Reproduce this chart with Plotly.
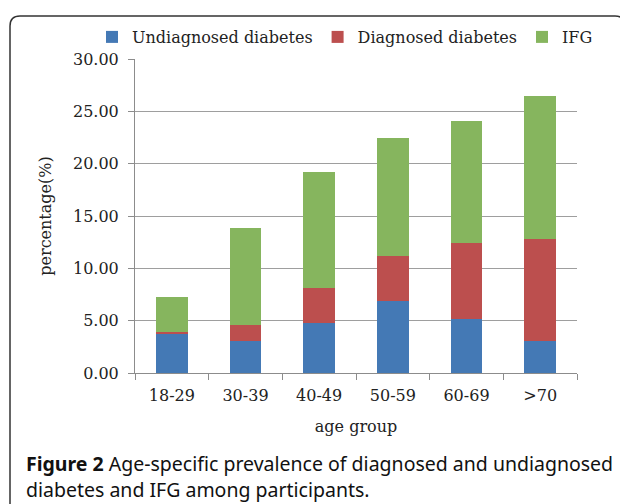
import plotly.graph_objects as go

age_groups = ["18-29", "30-39", "40-49", "50-59", "60-69", ">70"]
undiagnosed = [3.75, 3.02, 4.80, 6.91, 5.19, 3.02]
diagnosed = [0.19, 1.53, 3.35, 4.29, 7.26, 9.81]
ifg = [3.28, 9.35, 11.08, 11.28, 11.65, 13.67]

series_names = ["Undiagnosed diabetes", "Diagnosed diabetes", "IFG"]
colors = ["#4479B5", "#BC4F4E", "#86B55E"]

OFF = 8  # default page body margin
W, H = 628 - OFF, 504 - OFF
# plot area in page pixels
L, R, T, B = 135 - OFF, 577 - OFF, 59 - OFF, 373 - OFF


def px(x):
    return (x - OFF - L) / (R - L)


def py(y):
    return (B - (y - OFF)) / (B - T)


chart_font = "DejaVu Serif"

fig = go.Figure()
for name, vals, c in zip(series_names, [undiagnosed, diagnosed, ifg], colors):
    fig.add_trace(go.Bar(x=age_groups, y=vals, name=name, marker=dict(color=c, line=dict(width=0))))

# frame
lx, rx_, ty, by = px(10), px(625), py(16), py(515)
rx, ry = 10 / (R - L), 10 / (B - T)
path = (f"M {lx},{by} L {lx},{ty - ry} Q {lx},{ty} {lx + rx},{ty} "
        f"L {rx_ - rx},{ty} Q {rx_},{ty} {rx_},{ty - ry} L {rx_},{by}")

cap_font = dict(family="Noto Sans", size=19.5, color="#111")

fig.update_layout(
    width=W, height=H,
    barmode="stack", bargap=0.57,
    margin=dict(l=L, r=W - R, t=T, b=H - B, autoexpand=False),
    plot_bgcolor="white", paper_bgcolor="white",
    font=dict(family=chart_font, size=16, color="#222"),
    legend=dict(orientation="h", x=px(92), y=py(37), xanchor="left", yanchor="middle",
                font=dict(family=chart_font, size=16, color="#222"),
                itemwidth=30, tracegroupgap=0, traceorder="normal",
                bgcolor="rgba(0,0,0,0)"),
    shapes=[dict(type="path", path=path, xref="paper", yref="paper",
                 line=dict(color="#333", width=1.5))],
    annotations=[
        dict(text="<b>Figure 2</b> Age-specific prevalence of diagnosed and undiagnosed",
             x=px(24), y=py(463), xref="paper", yref="paper", xanchor="left", yanchor="middle",
             showarrow=False, font=cap_font),
        dict(text="diabetes and IFG among participants.",
             x=px(24), y=py(489), xref="paper", yref="paper", xanchor="left", yanchor="middle",
             showarrow=False, font=cap_font),
    ],
)

fig.update_yaxes(range=[0, 30], tickvals=[0, 5, 10, 15, 20, 25, 30], tickformat=".2f",
                 showgrid=True, gridcolor="#9E9E9E", gridwidth=1,
                 showline=True, linecolor="#8C8C8C", linewidth=1,
                 ticks="outside", ticklen=6, tickcolor="#8C8C8C",
                 ticklabelstandoff=6, zeroline=False,
                 title=dict(text="percentage(%)", standoff=17,
                            font=dict(family=chart_font, size=16)))
fig.update_xaxes(showline=True, linecolor="#8C8C8C", linewidth=1,
                 ticks="outside", ticklen=6, tickcolor="#8C8C8C", tickson="boundaries",
                 ticklabelstandoff=8,
                 title=dict(text="age group", standoff=16,
                            font=dict(family=chart_font, size=16)))

fig.write_html("out.html")
